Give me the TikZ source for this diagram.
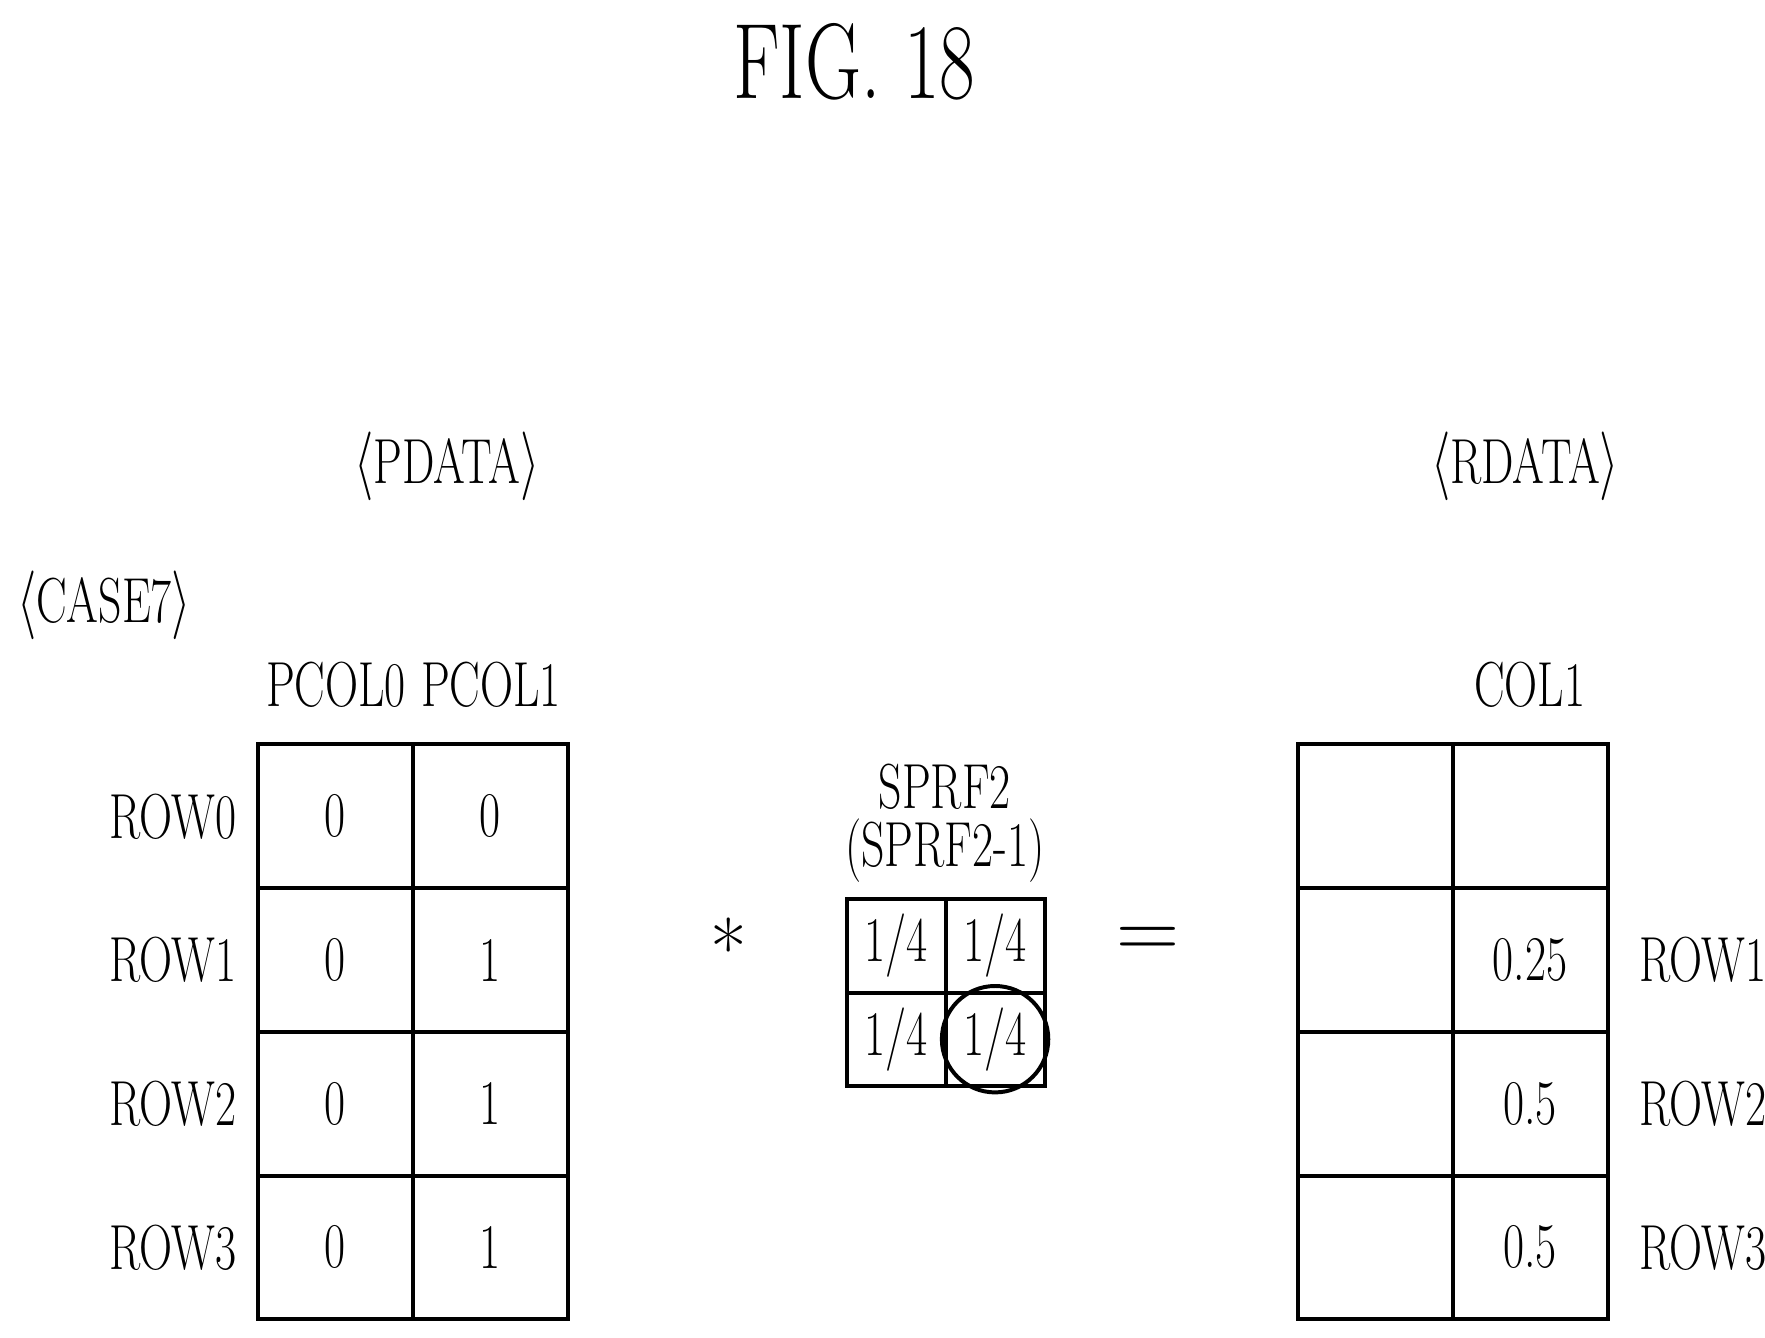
\documentclass[tikz,border=0pt]{standalone}
\usepackage{tikz}
\usepackage{graphicx}
\usetikzlibrary{positioning}
\newcommand{\cn}[1]{\scalebox{0.72}[1]{#1}}

\begin{document}
\begin{tikzpicture}[
    x=0.01cm, y=-0.01cm,
    lbl/.style={font=\fontsize{16}{18}\selectfont, inner sep=1pt},
    cell/.style={draw, line width=1pt, minimum width=1.37cm, minimum height=1.27cm, font=\fontsize{16}{18}\selectfont},
    small/.style={draw, line width=1pt, minimum width=0.875cm, minimum height=0.825cm, font=\fontsize{16}{18}\selectfont, inner sep=0pt}
]
\useasboundingbox (0,0) rectangle (1560,1182);

% Titles
\node[font=\fontsize{27}{30}\selectfont] (fig) at (755,55) {\cn{FIG. 18}};
\node[lbl] (pdata) at (395,412) {\cn{$\langle$PDATA$\rangle$}};
\node[lbl] (rdata) at (1348,412) {\cn{$\langle$RDATA$\rangle$}};
\node[lbl] (case) at (92,535) {\cn{$\langle$CASE7$\rangle$}};

% Column labels
\node[lbl] (pcol0) at (297,605) {\cn{PCOL0}};
\node[lbl] (pcol1) at (434,605) {\cn{PCOL1}};
\node[lbl] (col1) at (1352,605) {\cn{COL1}};

% PDATA grid
\foreach \r/\a/\b in {0/0/0, 1/0/1, 2/0/1, 3/0/1} {
  \node[cell] (p\r a) at (296.5,721.5+127*\r) {\cn{\a}};
  \node[cell] (p\r b) at (433.5,721.5+127*\r) {\cn{\b}};
  \node[lbl] (prow\r) at (153,721.5+127*\r) {\cn{ROW\r}};
}

% RDATA grid
\foreach \r/\v in {0/{}, 1/0.25, 2/0.5, 3/0.5} {
  \node[cell] (r\r a) at (1215.5,721.5+127*\r) {};
  \node[cell] (r\r b) at (1352.5,721.5+127*\r) {\cn{\v}};
}
\foreach \r in {1,2,3}
  \node[lbl] (rrow\r) at (1505,721.5+127*\r) {\cn{ROW\r}};

% Filter
\node[small] (f00) at (792,836) {\cn{1/4}};
\node[small] (f01) at (879.5,836) {\cn{1/4}};
\node[small] (f10) at (792,918.5) {\cn{1/4}};
\node[small] (f11) at (879.5,918.5) {\cn{1/4}};
\node[lbl, inner sep=0pt] (sprf) at (835,752) {\cn{(SPRF2-1)}};
\node[lbl, inner sep=0pt] (sprfa) at (835,695) {\cn{SPRF2}};
\draw[line width=1pt] (f11) circle (0.47cm);

% Operators
\node[font=\fontsize{20}{22}\selectfont] (star) at (644,838) {*};
\node[font=\fontsize{22}{24}\selectfont] (eq) at (1015,833) {=};

\end{tikzpicture}
\end{document}
